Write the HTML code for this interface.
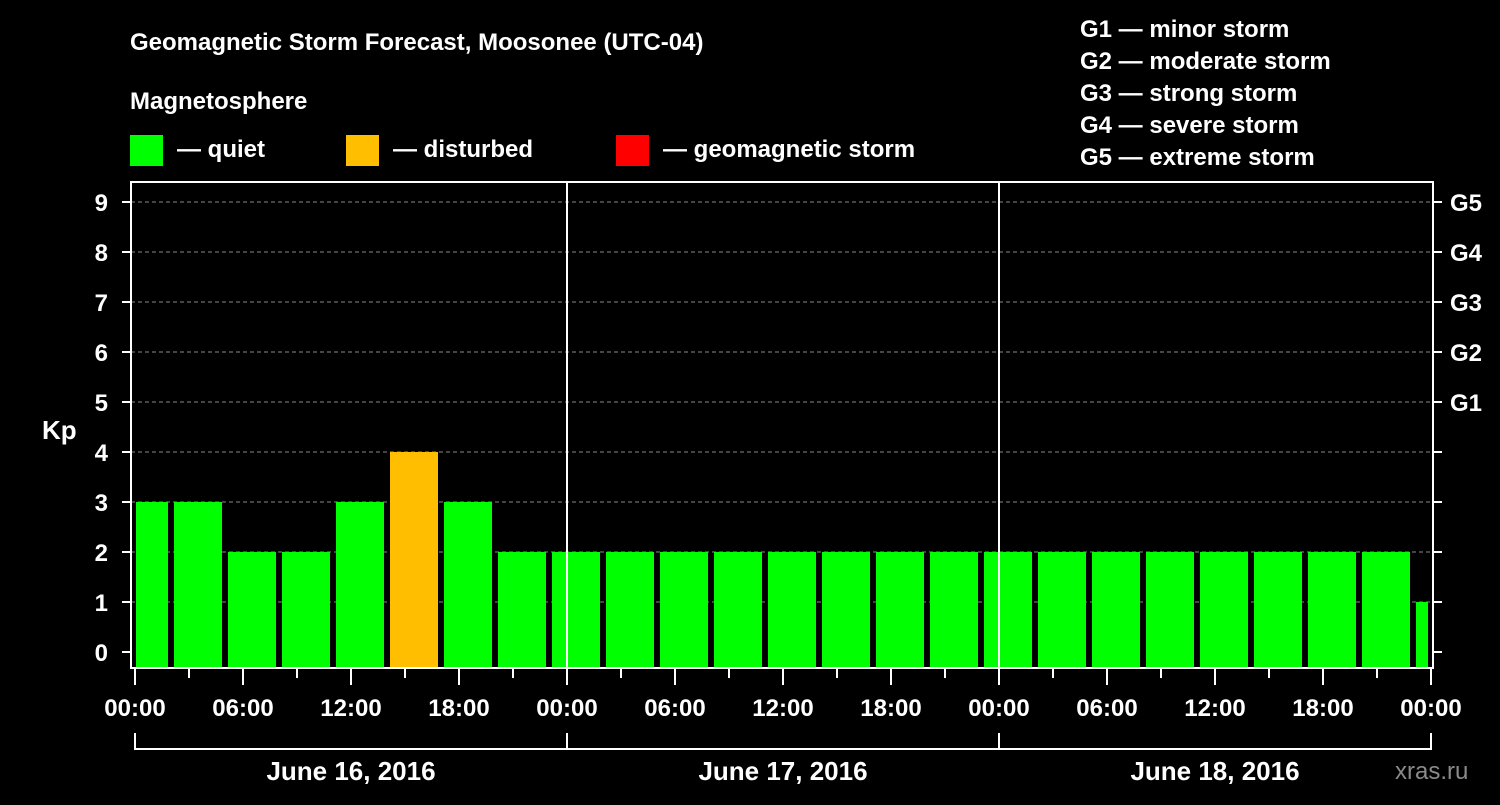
<!DOCTYPE html>
<html><head><meta charset="utf-8"><style>
body{margin:0;background:#000;width:1500px;height:800px;overflow:hidden}
svg text{font-family:"Liberation Sans",sans-serif;font-weight:bold;fill:#fff}
</style></head><body>
<svg id="c" width="1500" height="800">
<text x="130" y="50" font-size="24">Geomagnetic Storm Forecast, Moosonee (UTC-04)</text>
<text x="130" y="109" font-size="24">Magnetosphere</text>
<rect x="130" y="135" width="33" height="31" fill="#00ff00"/>
<text x="177" y="157" font-size="24">— quiet</text>
<rect x="346" y="135" width="33" height="31" fill="#ffbf00"/>
<text x="393" y="157" font-size="24">— disturbed</text>
<rect x="616" y="135" width="33" height="31" fill="#ff0000"/>
<text x="663" y="157" font-size="24">— geomagnetic storm</text>
<g font-size="24">
<text x="1080" y="37">G1 — minor storm</text>
<text x="1080" y="69">G2 — moderate storm</text>
<text x="1080" y="101">G3 — strong storm</text>
<text x="1080" y="133">G4 — severe storm</text>
<text x="1080" y="165">G5 — extreme storm</text>
</g>
<text x="42" y="439" font-size="26">Kp</text>
<text x="1395" y="779" font-size="24" fill="#888" style="fill:#8a8a8a;font-weight:normal">xras.ru</text>
<g id="g"></g>
</svg>
<script>
const values=[3,3,2,2,3,4,3,2,2,2,2,2,2,2,2,2,2,2,2,2,2,2,2,2,1];
const xLabels=["00:00","06:00","12:00","18:00","00:00","06:00","12:00","18:00","00:00","06:00","12:00","18:00","00:00"];
const dayLabels=["June 16, 2016","June 17, 2016","June 18, 2016"];
const gLabels=["G1","G2","G3","G4","G5"];
const NS="http://www.w3.org/2000/svg",g=document.getElementById('g');
const L=131,R=1433,T=182,B=668;
const x=h=>135+18*h, y=v=>652-50*v;
function mk(t,a,txt){const e=document.createElementNS(NS,t);for(const k in a)e.setAttribute(k,a[k]);if(txt!==undefined)e.textContent=txt;g.appendChild(e);return e;}
for(let v=1;v<=9;v++){const e=mk('line',{x1:L,x2:R,y1:y(v),y2:y(v),stroke:'#888','stroke-dasharray':'4,3'});

}
values.forEach((v,i)=>{let x0=x(i*3)-15,x1=x(i*3)+33;x0=Math.max(x0,L+5);x1=Math.min(x1,R-5);
const c=v>=5?'#ff0000':v>=4?'#ffbf00':'#00ff00';
const e=mk('rect',{x:x0,y:y(v),width:x1-x0,height:B-y(v),fill:c});

});
[1,2].forEach(d=>{const e=mk('line',{x1:x(24*d),x2:x(24*d),y1:T,y2:B,stroke:'#fff','stroke-width':2});

});
const fr=mk('rect',{x:L,y:T,width:R-L,height:B-T,fill:'none',stroke:'#fff','stroke-width':2});


for(let v=0;v<=9;v++){mk('line',{x1:122,x2:L,y1:y(v),y2:y(v),stroke:'#fff','stroke-width':2});
mk('line',{x1:R,x2:1442,y1:y(v),y2:y(v),stroke:'#fff','stroke-width':2});
const t=mk('text',{x:108,y:y(v)+9,'font-size':24,'text-anchor':'end'},String(v));


if(v>=5){const s=mk('text',{x:1450,y:y(v)+9,'font-size':24},gLabels[v-5]);

}}
for(let h=0;h<=72;h+=3){const maj=h%6==0;mk('line',{x1:x(h),x2:x(h),y1:B,y2:B+(maj?17:10),stroke:'#fff','stroke-width':2});}
xLabels.forEach((s,i)=>{const t=mk('text',{x:x(i*6),y:716,'font-size':24,'text-anchor':'middle'},s);

});
dayLabels.forEach((s,i)=>{mk('path',{d:`M${x(24*i)} 733V749H${x(24*i+24)}V733`,fill:'none',stroke:'#fff','stroke-width':2});
const t=mk('text',{x:x(24*i+12),y:780,'font-size':26,'text-anchor':'middle'},s);

});
</script>
</body></html>
